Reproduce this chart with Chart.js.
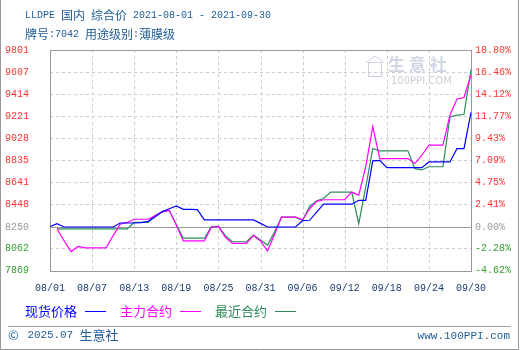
<!DOCTYPE html>
<html>
<head>
<meta charset="utf-8">
<script src="https://cdn.jsdelivr.net/npm/chart.js@4.4.1/dist/chart.umd.min.js"></script>
<style>
  html, body { margin: 0; padding: 0; background: #fff; }
  #wrap { width: 520px; height: 350px; }
</style>
</head>
<body>
<div id="wrap"><canvas id="chart" width="520" height="350"></canvas></div>
<script>
// x categories, one per day 08/01 .. 09/30
const days = [
  '08/01','08/02','08/03','08/04','08/05','08/06','08/07','08/08','08/09','08/10',
  '08/11','08/12','08/13','08/14','08/15','08/16','08/17','08/18','08/19','08/20',
  '08/21','08/22','08/23','08/24','08/25','08/26','08/27','08/28','08/29','08/30',
  '08/31','09/01','09/02','09/03','09/04','09/05','09/06','09/07','09/08','09/09',
  '09/10','09/11','09/12','09/13','09/14','09/15','09/16','09/17','09/18','09/19',
  '09/20','09/21','09/22','09/23','09/24','09/25','09/26','09/27','09/28','09/29',
  '09/30'
];

// 现货价格
const spotPrice = [
  8255, 8280, 8250, 8250, 8250, 8250, 8250, 8250, 8250, 8250,
  8285, 8285, 8285, 8288, 8300, 8340, 8385, 8410, 8435, 8405,
  8405, 8402, 8312, 8312, 8312, 8312, 8312, 8312, 8312, 8312,
  8282, 8250, 8250, 8250, 8250, 8250, 8305, 8309, 8380, 8450,
  8450, 8450, 8450, 8450, 8484, 8484, 8830, 8834, 8770, 8770,
  8770, 8770, 8770, 8770, 8820, 8820, 8820, 8820, 8937, 8937,
  9255
];

// 主力合约
const mainContract = [
  null, 8235, 8130, 8035, 8080, 8067, 8067, 8067, 8067, 8175,
  8275, 8290, 8318, 8318, 8318, 8350, 8383, 8396, 8265, 8128,
  8128, 8128, 8128, 8248, 8256, 8160, 8106, 8106, 8106, 8176,
  8128, 8040, 8185, 8337, 8337, 8337, 8314, 8410, 8475, 8489,
  8489, 8489, 8489, 8556, 8530, 8780, 9130, 8850, 8850, 8850,
  8850, 8850, 8806, 8879, 8967, 8967, 8967, 9230, 9372, 9385,
  9580
];

// 最近合约
const nearContract = [
  null, 8233, 8233, 8233, 8233, 8233, 8233, 8233, 8233, 8233,
  8233, 8233, 8290, 8290, 8290, 8350, 8383, 8395, 8272, 8152,
  8152, 8152, 8152, 8253, 8256, 8174, 8121, 8121, 8121, 8180,
  8136, 8092, 8205, 8337, 8337, 8337, 8307, 8430, 8480, 8500,
  8556, 8556, 8556, 8556, 8279, 8600, 8938, 8917, 8917, 8917,
  8917, 8917, 8761, 8750, 8778, 8778, 8778, 9215, 9230, 9236,
  9630
];

// axis tick labels
const basePrice = 8250;
const priceTicks = [9801, 9607, 9414, 9221, 9028, 8835, 8641, 8448, 8250, 8062, 7869];
const pctTicks = ['18.80%', '16.46%', '14.12%', '11.77%', '9.43%', '7.09%', '4.75%', '2.41%', '0.00%', '-2.28%', '-4.62%'];

const BLUE = '#0000ff';
const PINK = '#ff00ff';
const GREEN = '#2e8b57';
const TEXT = '#1f5c94';
const NAVY = '#1a3c6e';

const tickColor = (ctx) => {
  const v = priceTicks[ctx.index];
  if (v > basePrice) return '#ff3333';
  if (v < basePrice) return '#33a033';
  return '#999999';
};

// draws text like a simsun grid: latin half width, cjk full width
function gridText(ctx, text, x, y, size) {
  for (const ch of text) {
    const wide = ch.charCodeAt(0) > 0x2e80 || ch === '©';
    ctx.font = wide ? size + 'px "Noto Sans CJK SC"' : (size - 2) + 'px "Liberation Mono"';
    ctx.fillText(ch, x, y);
    x += wide ? size : size / 2;
  }
  return x;
}

const decor = {
  id: 'decor',
  beforeDraw(chart) {
    const ctx = chart.ctx;
    ctx.save();
    ctx.fillStyle = '#fff';
    ctx.fillRect(0, 0, chart.width, chart.height);
    ctx.restore();
  },
  beforeDatasetsDraw(chart) {
    const { ctx, chartArea: a, scales } = chart;
    const x = scales.x, y = scales.y;
    ctx.save();
    ctx.lineWidth = 1;

    // watermark
    ctx.fillStyle = 'rgba(170,180,205,0.55)';
    ctx.textBaseline = 'middle';
    ctx.textAlign = 'left';
    ctx.font = 'bold 17px "Noto Sans CJK SC"';
    ctx.fillText('生 意 社', 388, 65);
    ctx.font = '10px "DejaVu Sans"';
    ctx.fillStyle = 'rgba(160,165,185,0.55)';
    ctx.fillText('100PPI.COM', 391, 81);
    ctx.strokeStyle = 'rgba(170,180,205,0.6)';
    ctx.strokeRect(368.5, 62.5, 13, 14);
    ctx.beginPath();
    ctx.moveTo(366, 62.5); ctx.lineTo(375, 56); ctx.lineTo(384, 62.5);
    ctx.stroke();

    // dashed grid
    ctx.strokeStyle = '#cccccc';
    ctx.setLineDash([3, 3]);
    priceTicks.forEach((v, i) => {
      if (i === 0 || i === priceTicks.length - 1 || v === basePrice) return;
      const py = Math.round(y.getPixelForValue(v)) + 0.5;
      ctx.beginPath();
      ctx.moveTo(a.left, py);
      ctx.lineTo(a.right, py);
      ctx.stroke();
    });
    days.forEach((d, i) => {
      if (i % 6 !== 0 || i === 0 || i === days.length - 1) return;
      const px = Math.round(x.getPixelForValue(i)) + 0.5;
      ctx.beginPath();
      ctx.moveTo(px, a.top);
      ctx.lineTo(px, a.bottom);
      ctx.stroke();
    });
    ctx.setLineDash([]);

    // zero line and frame
    ctx.strokeStyle = '#999999';
    const zy = Math.round(y.getPixelForValue(basePrice)) + 0.5;
    ctx.beginPath();
    ctx.moveTo(a.left, zy);
    ctx.lineTo(a.right, zy);
    ctx.stroke();
    ctx.strokeRect(Math.round(a.left) + 0.5, Math.round(a.top) + 0.5,
      Math.round(a.right - a.left), Math.round(a.bottom - a.top));
    ctx.restore();
  },
  afterDraw(chart) {
    const ctx = chart.ctx;
    ctx.save();
    ctx.textBaseline = 'middle';
    ctx.textAlign = 'left';

    // title
    ctx.fillStyle = TEXT;
    gridText(ctx, 'LLDPE 国内 综合价 2021-08-01 - 2021-09-30', 25, 15, 12);
    gridText(ctx, '牌号:7042 用途级别:薄膜级', 25, 34, 12);

    // legend
    const items = [['现货价格', BLUE, 25], ['主力合约', PINK, 120], ['最近合约', GREEN, 215]];
    items.forEach(([label, color, lx]) => {
      ctx.fillStyle = color;
      ctx.font = '13px "Noto Sans CJK SC"';
      ctx.fillText(label, lx, 311);
      ctx.strokeStyle = color;
      ctx.lineWidth = 1;
      ctx.beginPath();
      ctx.moveTo(lx + 60, 311.5);
      ctx.lineTo(lx + 81, 311.5);
      ctx.stroke();
    });

    // footer
    ctx.strokeStyle = '#a0a0a0';
    ctx.beginPath();
    ctx.moveTo(8, 326.5);
    ctx.lineTo(511, 326.5);
    ctx.stroke();
    ctx.fillStyle = TEXT;
    gridText(ctx, '© 2025.07 生意社', 8, 335, 13);
    ctx.font = '11px "Liberation Mono"';
    ctx.textAlign = 'right';
    ctx.fillText('www.100PPI.com', 510, 336);

    // outer frame (left, right, bottom)
    ctx.strokeStyle = '#999999';
    ctx.beginPath();
    ctx.moveTo(0.5, 0);
    ctx.lineTo(0.5, 349.5);
    ctx.lineTo(518.5, 349.5);
    ctx.lineTo(518.5, 0);
    ctx.stroke();
    ctx.restore();
  }
};

const lineSet = (label, data, color) => ({
  label: label,
  data: data,
  borderColor: color,
  backgroundColor: color,
  borderWidth: 1.2,
  pointRadius: 0,
  tension: 0,
  spanGaps: true,
  yAxisID: 'y'
});

new Chart(document.getElementById('chart'), {
  type: 'line',
  data: {
    labels: days,
    datasets: [
      lineSet('现货价格', spotPrice, BLUE),
      lineSet('主力合约', mainContract, PINK),
      lineSet('最近合约', nearContract, GREEN)
    ]
  },
  options: {
    responsive: false,
    animation: false,
    layout: { padding: { top: 50, left: 0, right: 0, bottom: 0 } },
    plugins: { legend: { display: false }, tooltip: { enabled: false } },
    scales: {
      x: {
        grid: { display: false, drawTicks: false },
        border: { display: false },
        afterFit: (s) => { s.height = 79.5; },
        ticks: {
          autoSkip: false,
          maxRotation: 0,
          minRotation: 0,
          padding: 12,
          color: NAVY,
          font: { family: 'Liberation Mono', size: 10 },
          callback: (v, i) => (i % 6 === 0 ? days[i] : '')
        }
      },
      y: {
        position: 'left',
        min: 7869,
        max: 9801,
        grid: { display: false, drawTicks: false },
        border: { display: false },
        afterFit: (s) => { s.width = 50; },
        afterBuildTicks: (s) => { s.ticks = priceTicks.map(v => ({ value: v })); },
        ticks: {
          padding: 21,
          color: tickColor,
          font: { family: 'Liberation Mono', size: 10 },
          callback: (v, i) => String(priceTicks[i])
        }
      },
      y2: {
        position: 'right',
        min: 7869,
        max: 9801,
        grid: { display: false, drawTicks: false },
        border: { display: false },
        afterFit: (s) => { s.width = 49; },
        afterBuildTicks: (s) => { s.ticks = priceTicks.map(v => ({ value: v })); },
        ticks: {
          padding: 4,
          color: tickColor,
          font: { family: 'Liberation Mono', size: 10 },
          callback: (v, i) => pctTicks[i]
        }
      }
    }
  },
  plugins: [decor]
});
</script>
</body>
</html>
